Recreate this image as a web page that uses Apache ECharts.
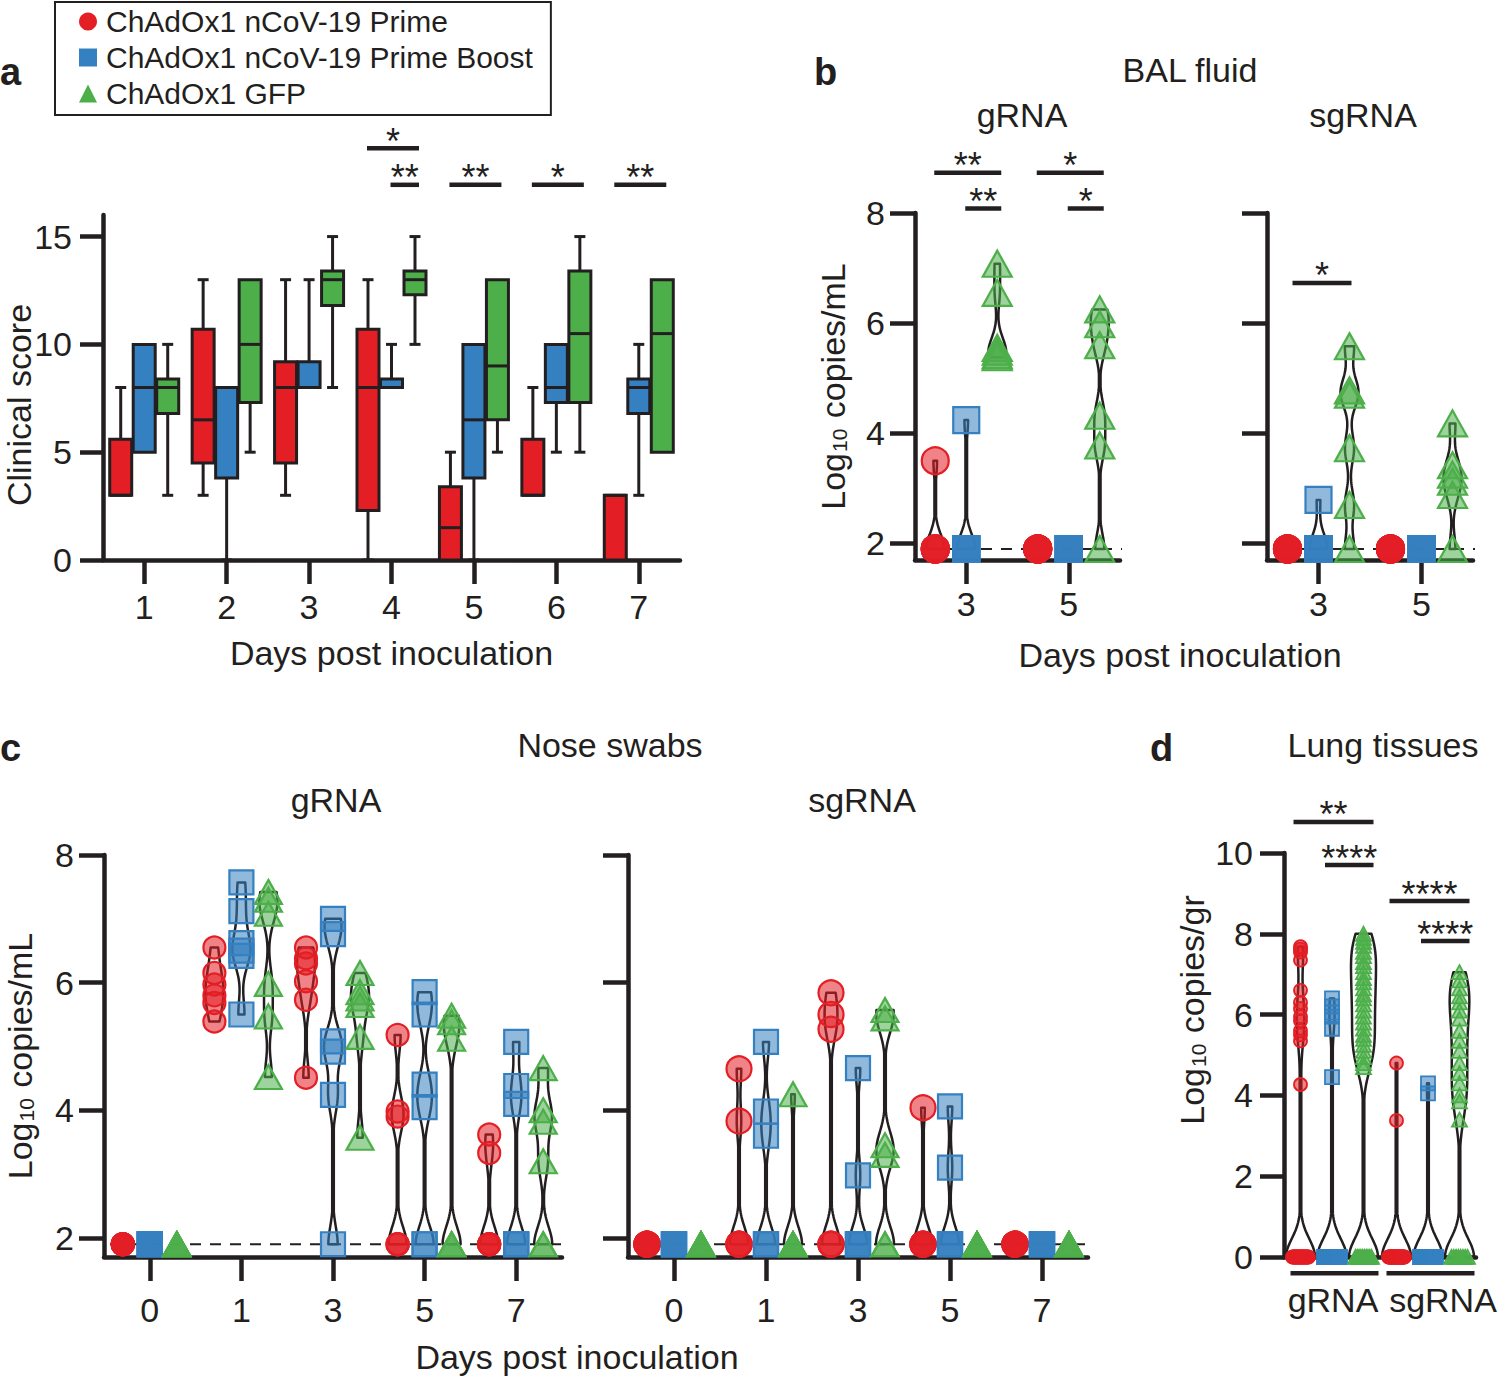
<!DOCTYPE html>
<html>
<head>
<meta charset="utf-8">
<title>ChAdOx1 nCoV-19 rhesus macaque figure</title>
<script src="https://cdn.jsdelivr.net/npm/echarts@6.0.0/dist/echarts.min.js"></script>
<style>
html,body{margin:0;padding:0;background:#ffffff;}
#chart{width:1500px;height:1376px;}
</style>
</head>
<body>
<div id="chart"></div>
<script>
// ======================= DATA =======================
const groupNames = ['ChAdOx1 nCoV-19 Prime', 'ChAdOx1 nCoV-19 Prime Boost', 'ChAdOx1 GFP'];
const LOD = 1.9;

// ---- a: clinical score, per day [min, Q1, median, Q3, max]
const clinDays = ['1', '2', '3', '4', '5', '6', '7'];
const clinPrime = [
  [3, 3, 3, 5.6, 8],
  [3, 4.5, 6.5, 10.7, 13],
  [3, 4.5, 8, 9.2, 13],
  [0, 2.3, 8, 10.7, 13],
  [0, 0, 1.5, 3.4, 5],
  [3, 3, 3, 5.6, 8],
  [0, 0, 3, 3, 3]
];
const clinBoost = [
  [5, 5, 8, 10, 10],
  [0, 3.8, 8, 8, 8],
  [8, 8, 8, 9.2, 13],
  [8, 8, 8, 8.4, 10],
  [0, 3.8, 6.5, 10, 10],
  [5, 7.3, 8, 10, 10],
  [3, 6.8, 8, 8.4, 10]
];
const clinGFP = [
  [3, 6.8, 8, 8.4, 10],
  [5, 7.3, 10, 13, 13],
  [8, 11.8, 13, 13.4, 15],
  [10, 12.3, 13, 13.4, 15],
  [5, 6.5, 9, 13, 13],
  [5, 7.3, 10.5, 13.4, 15],
  [5, 5, 10.5, 13, 13]
];

// ---- b: BAL fluid, log10 copies/mL, per day (3, 5)
const balDays = ['3', '5'];
const balGPrime = [[3.5, 1.9, 1.9, 1.9, 1.9, 1.9], [1.9, 1.9, 1.9, 1.9, 1.9, 1.9]];
const balGBoost = [[4.24, 1.9, 1.9, 1.9, 1.9, 1.9], [1.9, 1.9, 1.9, 1.9, 1.9, 1.9]];
const balGGFP   = [[7.08, 6.55, 5.55, 5.48, 5.42, 5.38], [6.25, 5.98, 5.6, 4.32, 3.78, 1.9]];
const balSPrime = [[1.9, 1.9, 1.9, 1.9, 1.9, 1.9], [1.9, 1.9, 1.9, 1.9, 1.9, 1.9]];
const balSBoost = [[2.79, 1.9, 1.9, 1.9, 1.9, 1.9], [1.9, 1.9, 1.9, 1.9, 1.9, 1.9]];
const balSGFP   = [[5.58, 4.78, 4.7, 3.73, 2.7, 1.9], [4.18, 3.42, 3.25, 3.12, 2.88, 1.9]];

// ---- c: nose swabs, log10 copies/mL, per day (0, 1, 3, 5, 7)
const noseDays = ['0', '1', '3', '5', '7'];
const noseGPrime = [
  [1.9, 1.9, 1.9, 1.9, 1.9, 1.9],
  [6.55, 6.15, 5.97, 5.8, 5.68, 5.39],
  [6.55, 6.38, 6.3, 6.02, 5.73, 4.51],
  [5.18, 3.98, 3.9, 1.9, 1.9, 1.9],
  [3.62, 3.33, 1.9, 1.9, 1.9, 1.9]
];
const noseGBoost = [
  [1.9, 1.9, 1.9, 1.9, 1.9, 1.9],
  [7.57, 7.12, 6.62, 6.5, 6.42, 5.5],
  [7.0, 6.76, 5.08, 4.92, 4.24, 1.9],
  [5.85, 5.5, 4.4, 4.05, 1.9, 1.9],
  [5.07, 4.38, 4.1, 1.9, 1.9, 1.9]
];
const noseGGFP = [
  [1.9, 1.9, 1.9, 1.9, 1.9, 1.9],
  [7.42, 7.3, 7.08, 5.98, 5.47, 4.52],
  [6.15, 5.85, 5.75, 5.65, 5.15, 3.57],
  [5.48, 5.38, 5.12, 1.9, 1.9, 1.9],
  [4.66, 4.0, 3.82, 3.2, 1.9, 1.9]
];
const noseSPrime = [
  [1.9, 1.9, 1.9, 1.9, 1.9, 1.9],
  [4.65, 3.83, 1.9, 1.9, 1.9, 1.9],
  [5.84, 5.5, 5.27, 1.9, 1.9, 1.9],
  [4.04, 1.9, 1.9, 1.9, 1.9, 1.9],
  [1.9, 1.9, 1.9, 1.9, 1.9, 1.9]
];
const noseSBoost = [
  [1.9, 1.9, 1.9, 1.9, 1.9, 1.9],
  [5.07, 3.98, 3.6, 1.9, 1.9, 1.9],
  [4.66, 2.98, 1.9, 1.9, 1.9, 1.9],
  [4.06, 3.1, 1.9, 1.9, 1.9, 1.9],
  [1.9, 1.9, 1.9, 1.9, 1.9, 1.9]
];
const noseSGFP = [
  [1.9, 1.9, 1.9, 1.9, 1.9, 1.9],
  [4.25, 1.9, 1.9, 1.9, 1.9, 1.9],
  [5.57, 5.44, 3.45, 3.3, 1.9, 1.9],
  [1.9, 1.9, 1.9, 1.9, 1.9, 1.9],
  [1.9, 1.9, 1.9, 1.9, 1.9, 1.9]
];

// ---- d: lung tissues, log10 copies/gr, per assay (gRNA, sgRNA)
const lungCats = ['gRNA', 'sgRNA'];
const lungPrime = [
  [7.68, 7.62, 7.55, 7.35, 6.6, 6.3, 6.15, 5.95, 5.85, 5.6, 5.5, 5.35, 4.27,
   0, 0, 0, 0, 0, 0, 0, 0, 0, 0, 0, 0, 0, 0, 0, 0, 0, 0, 0, 0, 0, 0],
  [4.8, 3.38,
   0, 0, 0, 0, 0, 0, 0, 0, 0, 0, 0, 0, 0, 0, 0, 0, 0, 0, 0, 0, 0, 0, 0, 0, 0, 0, 0, 0, 0, 0]
];
const lungBoost = [
  [6.4, 6.2, 6.05, 5.95, 5.65, 4.45,
   0, 0, 0, 0, 0, 0, 0, 0, 0, 0, 0, 0, 0, 0, 0, 0, 0, 0, 0, 0, 0, 0, 0, 0],
  [4.3, 4.05,
   0, 0, 0, 0, 0, 0, 0, 0, 0, 0, 0, 0, 0, 0, 0, 0, 0, 0, 0, 0, 0, 0, 0, 0, 0, 0, 0, 0]
];
const lungGFP = [
  [8.0, 7.9, 7.8, 7.7, 7.55, 7.45, 7.3, 7.2, 7.05, 6.9, 6.8, 6.65, 6.5, 6.4, 6.25, 6.1,
   5.95, 5.8, 5.65, 5.5, 5.4, 5.25, 5.1, 4.95, 4.8, 4.7,
   0, 0, 0, 0, 0, 0, 0, 0, 0, 0],
  [7.05, 6.85, 6.65, 6.45, 6.3, 6.1, 5.9, 5.6, 5.35, 5.1, 4.8, 4.55, 4.3, 4.0, 3.85, 3.4,
   0, 0, 0, 0, 0, 0, 0, 0]
];

// ---- significance annotations: category index, compared groups, label, stacking level
const sigClin = [
  {cat: 3, g: [0, 2], label: '*', level: 1},
  {cat: 3, g: [1, 2], label: '**', level: 0},
  {cat: 4, g: [0, 2], label: '**', level: 0},
  {cat: 5, g: [0, 2], label: '*', level: 0},
  {cat: 6, g: [0, 2], label: '**', level: 0}
];
const sigBalG = [
  {cat: 0, g: [0, 2], label: '**', level: 1},
  {cat: 0, g: [1, 2], label: '**', level: 0},
  {cat: 1, g: [0, 2], label: '*', level: 1},
  {cat: 1, g: [1, 2], label: '*', level: 0}
];
const sigBalS = [
  {cat: 0, g: [0, 2], label: '*', level: 0}
];
const sigLung = [
  {cat: 0, g: [0, 2], label: '**', level: 3},
  {cat: 0, g: [1, 2], label: '****', level: 2},
  {cat: 1, g: [0, 2], label: '****', level: 1},
  {cat: 1, g: [1, 2], label: '****', level: 0}
];

// ======================= STYLE / LAYOUT =======================
const FONT = '"Liberation Sans", Arial, Helvetica, sans-serif';
const INK = '#231f20';
const COLORS = ['#E31E24', '#3480C0', '#4DAF4A'];
const FILLS = ['rgba(227,30,36,0.55)', 'rgba(52,128,192,0.55)', 'rgba(77,175,74,0.55)'];
const SYMBOLS = ['circle', 'rect', 'triangle'];
const AXW = 4.5;

const sigLevelsClin = [17.4, 19.1];
const sigLevelsBalG = [8.08, 8.73];
const sigLevelsBalS = [6.73];
const sigLevelsLung = [7.82, 8.81, 9.7, 10.77];
const bracketLevelLung = -0.4;

const offA = [-23.5, 0, 23.5];
const offB = [-31, 0, 31];
const offC = [-27, 0, 27];
const offD = [-31.5, 0, 31.5];

// ======================= BUILDERS =======================
function boxSeries(gi, rows) {
  return {
    type: 'custom', name: groupNames[gi], xAxisIndex: 0, yAxisIndex: 0, z: 3, silent: true,
    itemStyle: {color: COLORS[gi]},
    encode: {x: 0, y: [1, 2, 3, 4, 5]},
    data: rows.map((r, i) => [i].concat(r)),
    renderItem(params, api) {
      const i = api.value(0);
      const v = [1, 2, 3, 4, 5].map(k => api.value(k));
      const cx = api.coord([i, v[2]])[0] + offA[gi];
      const y = v.map(val => api.coord([i, val])[1]);
      const hw = 11, cap = 5.5;
      const ls = {stroke: INK, lineWidth: 3};
      const ch = [];
      if (v[4] > v[3]) {
        ch.push({type: 'line', shape: {x1: cx, y1: y[3], x2: cx, y2: y[4]}, style: ls});
        ch.push({type: 'line', shape: {x1: cx - cap, y1: y[4], x2: cx + cap, y2: y[4]}, style: ls});
      }
      if (v[0] < v[1]) {
        ch.push({type: 'line', shape: {x1: cx, y1: y[1], x2: cx, y2: y[0]}, style: ls});
        ch.push({type: 'line', shape: {x1: cx - cap, y1: y[0], x2: cx + cap, y2: y[0]}, style: ls});
      }
      ch.push({type: 'rect', shape: {x: cx - hw, y: y[3], width: 2 * hw, height: Math.max(y[1] - y[3], 1)},
               style: {fill: COLORS[gi], stroke: INK, lineWidth: 3}});
      ch.push({type: 'line', shape: {x1: cx - hw, y1: y[2], x2: cx + hw, y2: y[2]}, style: ls});
      return {type: 'group', children: ch};
    }
  };
}

function violinSeries(axisIdx, groups, offs, W, h) {
  const items = [];
  groups.forEach((g, gi) => g.forEach((vals, ci) => items.push({ci, gi, vals})));
  return {
    type: 'custom', xAxisIndex: axisIdx, yAxisIndex: axisIdx, z: 2, silent: true,
    data: items.map(it => [it.ci]),
    renderItem(params, api) {
      const it = items[params.dataIndex];
      const vals = it.vals;
      const lo = Math.min.apply(null, vals), hi = Math.max.apply(null, vals);
      if (hi - lo < 1e-9) return {type: 'group', children: []};
      const N = 90, ys = [], ds = [];
      for (let k = 0; k <= N; k++) {
        const yv = lo + (hi - lo) * k / N;
        let d = 0;
        for (const v of vals) { const z = (yv - v) / h; d += Math.exp(-0.5 * z * z); }
        ys.push(yv); ds.push(d);
      }
      const dmax = Math.max.apply(null, ds);
      const cx = api.coord([it.ci, lo])[0] + offs[it.gi];
      const left = [], right = [];
      for (let k = 0; k <= N; k++) {
        const py = api.coord([it.ci, ys[k]])[1];
        const w = Math.max(W * ds[k] / dmax, 0.8);
        left.push([cx - w, py]);
        right.unshift([cx + w, py]);
      }
      return {type: 'polygon', shape: {points: left.concat(right)},
              style: {fill: 'none', stroke: INK, lineWidth: 2.5, lineJoin: 'round'}};
    }
  };
}

function scatterSeries(axisIdx, gi, perCat, offs, size, spread, bw) {
  const data = [];
  perCat.forEach((vals, ci) => {
    const counts = {}, seen = {};
    vals.forEach(v => { counts[v] = (counts[v] || 0) + 1; });
    vals.forEach(v => {
      const n = counts[v], k = seen[v] || 0;
      seen[v] = k + 1;
      const j = (spread && n > 2) ? (-spread + 2 * spread * k / (n - 1)) : 0;
      data.push({value: [ci, v], symbolOffset: [offs[gi] + j, 0]});
    });
  });
  return {
    type: 'scatter', name: groupNames[gi], xAxisIndex: axisIdx, yAxisIndex: axisIdx, z: 4,
    symbol: SYMBOLS[gi], symbolSize: size, clip: false, silent: true,
    itemStyle: {color: FILLS[gi], borderColor: COLORS[gi], borderWidth: bw, opacity: 1},
    emphasis: {disabled: true},
    data
  };
}

function lodSeries(axisIdx) {
  return {
    type: 'custom', xAxisIndex: axisIdx, yAxisIndex: axisIdx, z: 1, silent: true,
    data: [[0]],
    renderItem(params, api) {
      const cs = params.coordSys;
      const py = api.coord([0, LOD])[1];
      return {type: 'line', shape: {x1: cs.x + 6, y1: py, x2: cs.x + cs.width + 2, y2: py},
              style: {stroke: INK, lineWidth: 1.8, lineDash: [11, 9]}};
    }
  };
}

function sigSeries(axisIdx, list, levels, offs, padL, padR) {
  return {
    type: 'custom', xAxisIndex: axisIdx, yAxisIndex: axisIdx, z: 5, silent: true, clip: false,
    data: list.map(s => [s.cat]),
    renderItem(params, api) {
      const s = list[params.dataIndex];
      const p = api.coord([s.cat, levels[s.level]]);
      const x1 = p[0] + offs[s.g[0]] - padL, x2 = p[0] + offs[s.g[1]] + padR;
      return {type: 'group', children: [
        {type: 'line', shape: {x1, y1: p[1], x2, y2: p[1]}, style: {stroke: INK, lineWidth: 4.5}},
        {type: 'text', style: {text: s.label, x: (x1 + x2) / 2, y: p[1] - 7,
          textAlign: 'center', align: 'center', textVerticalAlign: 'middle', verticalAlign: 'middle',
          fontSize: 36, fontFamily: FONT, fill: INK}}
      ]};
    }
  };
}

function bracketSeries() {
  return {
    type: 'custom', xAxisIndex: 5, yAxisIndex: 5, z: 5, silent: true, clip: false,
    data: lungCats.map((c, i) => [i]),
    renderItem(params, api) {
      const p = api.coord([api.value(0), bracketLevelLung]);
      return {type: 'line', shape: {x1: p[0] + offD[0] - 10, y1: p[1], x2: p[0] + offD[2] + 15, y2: p[1]},
              style: {stroke: INK, lineWidth: 4.5}};
    }
  };
}

function catAxis(gi, data, margin, showTick) {
  return {
    type: 'category', gridIndex: gi, data, boundaryGap: true,
    axisLine: {show: true, onZero: false, lineStyle: {color: INK, width: AXW}},
    axisTick: {show: showTick, alignWithLabel: true, length: 24, lineStyle: {color: INK, width: AXW}},
    axisLabel: {fontSize: 34, color: INK, margin, fontFamily: FONT, interval: 0, hideOverlap: false},
    splitLine: {show: false}
  };
}

const logName = {
  fontSize: 34, color: INK, fontFamily: FONT, lineHeight: 34,
  rich: {sub: {fontSize: 21, lineHeight: 21, padding: [20, 1, 0, 1], verticalAlign: 'bottom', fontFamily: FONT, color: INK}}
};

function logAxis(gi, showLabels, name, gap) {
  const ax = {
    type: 'value', gridIndex: gi, min: 1.7, max: 8,
    axisLine: {show: true, onZero: false, lineStyle: {color: INK, width: AXW}},
    axisTick: {show: true, length: 25, lineStyle: {color: INK, width: AXW}, customValues: [2, 4, 6, 8]},
    axisLabel: {show: showLabels, fontSize: 34, color: INK, margin: 30, fontFamily: FONT, customValues: [2, 4, 6, 8]},
    splitLine: {show: false}
  };
  if (name) {
    ax.name = name; ax.nameLocation = 'middle'; ax.nameGap = gap; ax.nameTextStyle = logName;
    ax.nameMoveOverlap = false;
  }
  return ax;
}

// ======================= OPTION =======================
const panelTexts = [
  {t: 'a', x: 0, y: 72, bold: true, align: 'left', size: 38},
  {t: 'b', x: 814, y: 72, bold: true, align: 'left', size: 38},
  {t: 'c', x: 0, y: 748, bold: true, align: 'left', size: 38},
  {t: 'd', x: 1150, y: 748, bold: true, align: 'left', size: 38},
  {t: 'BAL fluid', x: 1190, y: 70},
  {t: 'gRNA', x: 1022, y: 115},
  {t: 'sgRNA', x: 1363, y: 115},
  {t: 'Days post inoculation', x: 1180, y: 655},
  {t: 'Nose swabs', x: 610, y: 745},
  {t: 'gRNA', x: 336, y: 800},
  {t: 'sgRNA', x: 862, y: 800},
  {t: 'Days post inoculation', x: 577, y: 1357},
  {t: 'Lung tissues', x: 1383, y: 745}
];

const lungAxis = catAxis(5, lungCats, 26, false);
lungAxis.axisLabel.formatter = v => (v === 'sgRNA' ? '{s|' + v + '}' : '{g|' + v + '}');
lungAxis.axisLabel.rich = {
  g: {fontSize: 34, color: INK, fontFamily: FONT, padding: [0, 0, 0, 2]},
  s: {fontSize: 34, color: INK, fontFamily: FONT, padding: [0, 0, 0, 30]}
};

function gridBox(left, top, width, height) {
  return {left, top, width, height, containLabel: false, outerBoundsMode: 'none'};
}

const option = {
  animation: false,
  backgroundColor: '#ffffff',
  textStyle: {fontFamily: FONT, color: INK},
  legend: {
    left: 55, top: 2, orient: 'vertical', selectedMode: false,
    borderColor: INK, borderWidth: 2, padding: [4, 18, 6, 24],
    itemWidth: 18, itemHeight: 18, itemGap: 5,
    textStyle: {fontSize: 30, color: INK, lineHeight: 31, fontFamily: FONT, padding: [0, 0, 0, 4]},
    data: groupNames.map((n, i) => ({name: n, icon: SYMBOLS[i],
      itemStyle: {color: COLORS[i], borderWidth: 0, opacity: 1}}))
  },
  grid: [
    gridBox(103, 215, 577, 345),
    gridBox(915, 213, 205, 347),
    gridBox(1267, 213, 206, 347),
    gridBox(104, 855, 458, 402),
    gridBox(628, 855, 460, 402),
    gridBox(1284, 853, 192, 404)
  ],
  xAxis: [
    Object.assign(catAxis(0, clinDays, 30, true), {
      name: 'Days post inoculation', nameLocation: 'middle', nameGap: 76, nameMoveOverlap: false,
      nameTextStyle: {fontSize: 34, color: INK, fontFamily: FONT}}),
    catAxis(1, balDays, 27, true),
    catAxis(2, balDays, 27, true),
    catAxis(3, noseDays, 36, true),
    catAxis(4, noseDays, 36, true),
    lungAxis
  ],
  yAxis: [
    {
      type: 'value', gridIndex: 0, min: 0, max: 16, interval: 5,
      axisLine: {show: true, onZero: false, lineStyle: {color: INK, width: AXW}},
      axisTick: {show: true, length: 23, lineStyle: {color: INK, width: AXW}},
      axisLabel: {fontSize: 34, color: INK, margin: 31, fontFamily: FONT},
      splitLine: {show: false},
      name: 'Clinical score', nameLocation: 'middle', nameGap: 67, nameMoveOverlap: false,
      nameTextStyle: {fontSize: 34, color: INK, fontFamily: FONT, padding: [0, 35, 0, 0]}
    },
    logAxis(1, true, 'Log{sub|10} copies/mL', 65),
    logAxis(2, false),
    logAxis(3, true, 'Log{sub|10} copies/mL', 67),
    logAxis(4, false),
    {
      type: 'value', gridIndex: 5, min: 0, max: 10, interval: 2,
      axisLine: {show: true, onZero: false, lineStyle: {color: INK, width: AXW}},
      axisTick: {show: true, length: 24, lineStyle: {color: INK, width: AXW}},
      axisLabel: {fontSize: 34, color: INK, margin: 31, fontFamily: FONT},
      splitLine: {show: false},
      name: 'Log{sub|10} copies/gr', nameLocation: 'middle', nameGap: 75, nameMoveOverlap: false,
      nameTextStyle: Object.assign({}, logName, {padding: [0, 0, 0, 90]})
    }
  ],
  graphic: panelTexts.map(p => ({
    type: 'text', x: p.x, y: p.y, silent: true,
    style: {text: p.t, fontSize: p.size || 34, fontWeight: p.bold ? 'bold' : 'normal', fontFamily: FONT, fill: INK,
            textAlign: p.align || 'center', align: p.align || 'center',
            textVerticalAlign: 'middle', verticalAlign: 'middle'}
  })),
  series: [
    // a
    boxSeries(0, clinPrime),
    boxSeries(1, clinBoost),
    boxSeries(2, clinGFP),
    sigSeries(0, sigClin, sigLevelsClin, offA, 1, 4),
    // b gRNA
    lodSeries(1),
    violinSeries(1, [balGPrime, balGBoost, balGGFP], offB, 9, 0.27),
    scatterSeries(1, 0, balGPrime, offB, 27, 0, 2.2),
    scatterSeries(1, 1, balGBoost, offB, 26, 0, 2.2),
    scatterSeries(1, 2, balGGFP, offB, [29, 26], 0, 2.2),
    sigSeries(1, sigBalG, sigLevelsBalG, offB, 1, 4),
    // b sgRNA
    lodSeries(2),
    violinSeries(2, [balSPrime, balSBoost, balSGFP], offB, 9, 0.27),
    scatterSeries(2, 0, balSPrime, offB, 27, 0, 2.2),
    scatterSeries(2, 1, balSBoost, offB, 26, 0, 2.2),
    scatterSeries(2, 2, balSGFP, offB, [29, 26], 0, 2.2),
    sigSeries(2, sigBalS, sigLevelsBalS, offB, -5, 2),
    // c gRNA
    lodSeries(3),
    violinSeries(3, [noseGPrime, noseGBoost, noseGGFP], offC, 9, 0.27),
    scatterSeries(3, 0, noseGPrime, offC, 22, 0, 2.2),
    scatterSeries(3, 1, noseGBoost, offC, 24, 0, 2.2),
    scatterSeries(3, 2, noseGGFP, offC, [27, 24], 0, 2.2),
    // c sgRNA
    lodSeries(4),
    violinSeries(4, [noseSPrime, noseSBoost, noseSGFP], offC, 9, 0.27),
    scatterSeries(4, 0, noseSPrime, offC, 25, 0, 2.2),
    scatterSeries(4, 1, noseSBoost, offC, 24, 0, 2.2),
    scatterSeries(4, 2, noseSGFP, offC, [27, 24], 0, 2.2),
    // d
    violinSeries(5, [lungPrime, lungBoost, lungGFP], offD, 14.5, 0.45),
    scatterSeries(5, 0, lungPrime, offD, 13, 8, 1.8),
    scatterSeries(5, 1, lungBoost, offD, 14, 8, 1.8),
    scatterSeries(5, 2, lungGFP, offD, [15, 14], 8, 1.8),
    sigSeries(5, sigLung, sigLevelsLung, offD, 7, 10),
    bracketSeries()
  ]
};

const chart = echarts.init(document.getElementById('chart'), null, {renderer: 'svg', width: 1500, height: 1376});
chart.setOption(option);
</script>
</body>
</html>
